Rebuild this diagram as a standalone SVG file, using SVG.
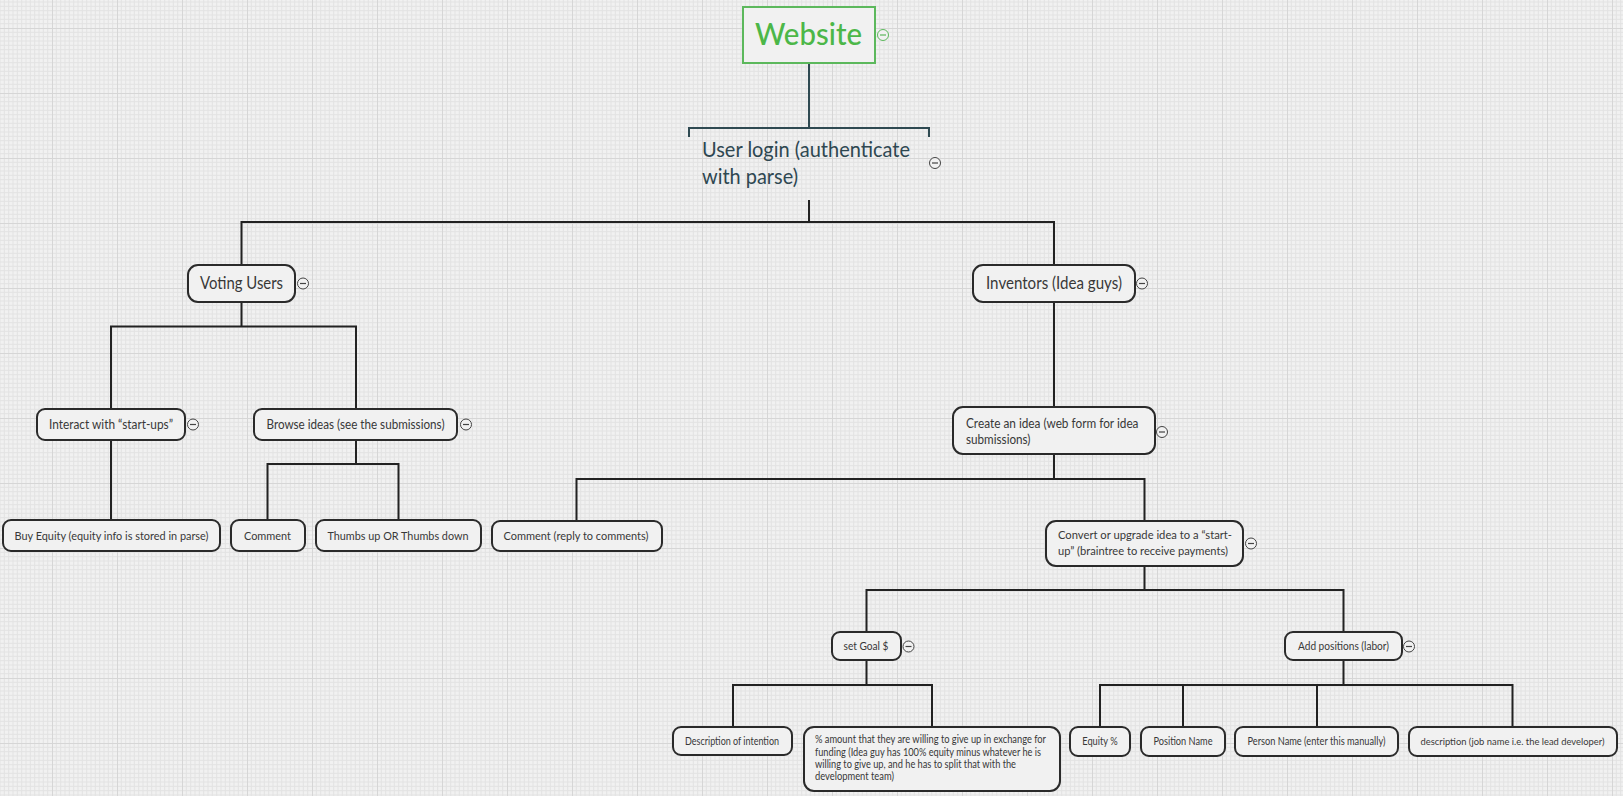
<svg xmlns="http://www.w3.org/2000/svg" width="1623" height="796" viewBox="0 0 1623 796">
  <defs>
    <pattern id="grid" x="52" y="28" width="65" height="65" patternUnits="userSpaceOnUse">
      <rect width="65" height="65" fill="#f1f1f1"/>
      <path d="M4.33 0V65M8.67 0V65M13 0V65M17.33 0V65M21.67 0V65M26 0V65M30.33 0V65M34.67 0V65M39 0V65M43.33 0V65M47.67 0V65M52 0V65M56.33 0V65M60.67 0V65M0 4.33H65M0 8.67H65M0 13H65M0 17.33H65M0 21.67H65M0 26H65M0 30.33H65M0 34.67H65M0 39H65M0 43.33H65M0 47.67H65M0 52H65M0 56.33H65M0 60.67H65" stroke="#e3e3e3" stroke-width="1" fill="none"/>
      <path d="M0.5 0V65M0 0.5H65" stroke="#d6d6d6" stroke-width="1" fill="none"/>
    </pattern>
    <g id="collapse">
      <circle r="5.5" fill="#f1f1f1" stroke="#444" stroke-width="1"/>
      <path d="M-3 0H3" stroke="#444" stroke-width="1.2"/>
    </g>
  </defs>
  <style>
    .node { fill: #f1f1f1; stroke: #2a2a2a; stroke-width: 2; }
    .t { font-family: Lato, "Noto Sans", "DejaVu Sans", sans-serif; fill: #383838; }
    .t16 { font-size: 16.5px; }
    .t12 { font-size: 12.5px; }
    .t11 { font-size: 11.5px; }
    .t10 { font-size: 10.5px; }
    .mid { text-anchor: middle; }
    .wire { fill: none; stroke: #222; stroke-width: 2; }
  </style>

  <rect width="1623" height="796" fill="url(#grid)"/>

  <!-- connectors -->
  <g id="connectors">
    <path d="M809 63V128" fill="none" stroke="#2f4a52" stroke-width="2"/>
    <path d="M689 137V128H929V137" fill="none" stroke="#2f4a52" stroke-width="2"/>
    <path class="wire" d="M809 200V222M241.5 222H1054M241.5 221V265M1054 221V265"/>
    <path class="wire" d="M241.5 302V326.5M111 326.5H356M111 325.5V409M356 325.5V409"/>
    <path class="wire" d="M111 440V520"/>
    <path class="wire" d="M356 440V464M267.5 464H398.5M267.5 463V520M398.5 463V520"/>
    <path class="wire" d="M1054 302V407"/>
    <path class="wire" d="M1054 454V479M576.5 479H1144.5M576.5 478V521M1144.5 478V521"/>
    <path class="wire" d="M1144.5 566V590M866.5 590H1343.5M866.5 589V632M1343.5 589V632"/>
    <path class="wire" d="M866.5 660V685M733 685H932M733 684V727M932 684V727"/>
    <path class="wire" d="M1343.5 660V685M1100 685H1512.5M1100 684V727M1183 684V727M1317 684V727M1512.5 684V727"/>
  </g>

  <!-- root -->
  <g id="website">
    <rect x="743" y="7" width="132" height="56" fill="#f1f1f1" stroke="#5cb85c" stroke-width="2"/>
    <text x="808.5" y="45" class="t mid" style="font-size:30px;fill:#4cb748;font-weight:500" textLength="107" lengthAdjust="spacingAndGlyphs">Website</text>
    <g transform="translate(883 35)">
      <circle r="5.5" fill="#f1f1f1" stroke="#5cb85c" stroke-width="1"/>
      <path d="M-3 0H3" stroke="#5cb85c" stroke-width="1.2"/>
    </g>
  </g>

  <g id="user-login">
    <text class="t" x="702" y="157" style="font-size:20.5px;fill:#2e4751" textLength="208" lengthAdjust="spacingAndGlyphs">User login (authenticate</text>
    <text class="t" x="702" y="184" style="font-size:20.5px;fill:#2e4751" textLength="96" lengthAdjust="spacingAndGlyphs">with parse)</text>
    <use href="#collapse" x="935" y="163"/>
  </g>

  <g id="voting-users">
    <rect class="node" x="188" y="265" width="107" height="37" rx="10"/>
    <text class="t t16 mid" x="241.5" y="288.5" textLength="83" lengthAdjust="spacingAndGlyphs">Voting Users</text>
    <use href="#collapse" x="303" y="283.5"/>
  </g>

  <g id="inventors">
    <rect class="node" x="973" y="265" width="162" height="37" rx="10"/>
    <text class="t t16 mid" x="1054" y="288.5" textLength="136" lengthAdjust="spacingAndGlyphs">Inventors (Idea guys)</text>
    <use href="#collapse" x="1142" y="283.5"/>
  </g>

  <g id="interact">
    <rect class="node" x="37" y="409" width="148" height="31" rx="8"/>
    <text class="t t12 mid" x="111" y="428.5" textLength="124" lengthAdjust="spacingAndGlyphs">Interact with “start-ups”</text>
    <use href="#collapse" x="193" y="424.5"/>
  </g>

  <g id="browse">
    <rect class="node" x="254" y="409" width="203" height="31" rx="8"/>
    <text class="t t12 mid" x="355.5" y="428.5" textLength="178" lengthAdjust="spacingAndGlyphs">Browse ideas (see the submissions)</text>
    <use href="#collapse" x="466" y="424.5"/>
  </g>

  <g id="buy-equity">
    <rect class="node" x="3" y="520" width="217" height="31" rx="8"/>
    <text class="t t11 mid" x="111.5" y="539.5" textLength="194" lengthAdjust="spacingAndGlyphs">Buy Equity (equity info is stored in parse)</text>
  </g>

  <g id="comment">
    <rect class="node" x="231" y="520" width="74" height="31" rx="8"/>
    <text class="t t11 mid" x="267.5" y="539.5" textLength="47" lengthAdjust="spacingAndGlyphs">Comment</text>
  </g>

  <g id="thumbs">
    <rect class="node" x="316" y="520" width="165" height="31" rx="8"/>
    <text class="t t11 mid" x="398" y="539.5" textLength="141" lengthAdjust="spacingAndGlyphs">Thumbs up OR Thumbs down</text>
  </g>

  <g id="create-idea">
    <rect class="node" x="953" y="407" width="202" height="47" rx="10"/>
    <text class="t t12" x="966" y="428" textLength="172.5" lengthAdjust="spacingAndGlyphs">Create an idea (web form for idea</text>
    <text class="t t12" x="966" y="444" textLength="64.5" lengthAdjust="spacingAndGlyphs">submissions)</text>
    <use href="#collapse" x="1162" y="432"/>
  </g>

  <g id="comment-reply">
    <rect class="node" x="492" y="521" width="170" height="30" rx="8"/>
    <text class="t t11 mid" x="576" y="540" textLength="145" lengthAdjust="spacingAndGlyphs">Comment (reply to comments)</text>
  </g>

  <g id="convert">
    <rect class="node" x="1046" y="521" width="197" height="45" rx="10"/>
    <text class="t t11" x="1058" y="538.5" textLength="174" lengthAdjust="spacingAndGlyphs">Convert or upgrade idea to a “start-</text>
    <text class="t t11" x="1058" y="555" textLength="170" lengthAdjust="spacingAndGlyphs">up” (braintree to receive payments)</text>
    <use href="#collapse" x="1251" y="543.5"/>
  </g>

  <g id="set-goal">
    <rect class="node" x="832" y="632" width="69" height="28" rx="8"/>
    <text class="t t10 mid" x="866" y="650" textLength="45" lengthAdjust="spacingAndGlyphs">set Goal $</text>
    <use href="#collapse" x="908.5" y="646.5"/>
  </g>

  <g id="add-positions">
    <rect class="node" x="1285" y="632" width="117" height="28" rx="8"/>
    <text class="t t10 mid" x="1343.5" y="650" textLength="91" lengthAdjust="spacingAndGlyphs">Add positions (labor)</text>
    <use href="#collapse" x="1409" y="646.5"/>
  </g>

  <g id="description-intention">
    <rect class="node" x="673" y="727" width="119" height="28" rx="8"/>
    <text class="t t10 mid" x="732" y="744.5" textLength="94" lengthAdjust="spacingAndGlyphs">Description of intention</text>
  </g>

  <g id="percent-amount">
    <rect class="node" x="804" y="727" width="256" height="64" rx="10"/>
    <text class="t t10" x="815" y="743" textLength="231" lengthAdjust="spacingAndGlyphs">% amount that they are willing to give up in exchange for</text>
    <text class="t t10" x="815" y="755.5" textLength="226" lengthAdjust="spacingAndGlyphs">funding (Idea guy has 100% equity minus whatever he is</text>
    <text class="t t10" x="815" y="768" textLength="201" lengthAdjust="spacingAndGlyphs">willing to give up, and he has to split that with the</text>
    <text class="t t10" x="815" y="780" textLength="79" lengthAdjust="spacingAndGlyphs">development team)</text>
  </g>

  <g id="equity-pct">
    <rect class="node" x="1070" y="727" width="60" height="29" rx="8"/>
    <text class="t t10 mid" x="1100" y="744.5" textLength="35.5" lengthAdjust="spacingAndGlyphs">Equity %</text>
  </g>

  <g id="position-name">
    <rect class="node" x="1141" y="727" width="84" height="29" rx="8"/>
    <text class="t t10 mid" x="1183" y="744.5" textLength="59" lengthAdjust="spacingAndGlyphs">Position Name</text>
  </g>

  <g id="person-name">
    <rect class="node" x="1235" y="727" width="163" height="29" rx="8"/>
    <text class="t t10 mid" x="1316.5" y="744.5" textLength="138" lengthAdjust="spacingAndGlyphs">Person Name (enter this manually)</text>
  </g>

  <g id="job-description">
    <rect class="node" x="1409" y="727" width="208" height="29" rx="8"/>
    <text class="t mid" style="font-size:10px" x="1512.5" y="744.5" textLength="184" lengthAdjust="spacingAndGlyphs">description (job name i.e. the lead developer)</text>
  </g>
</svg>
